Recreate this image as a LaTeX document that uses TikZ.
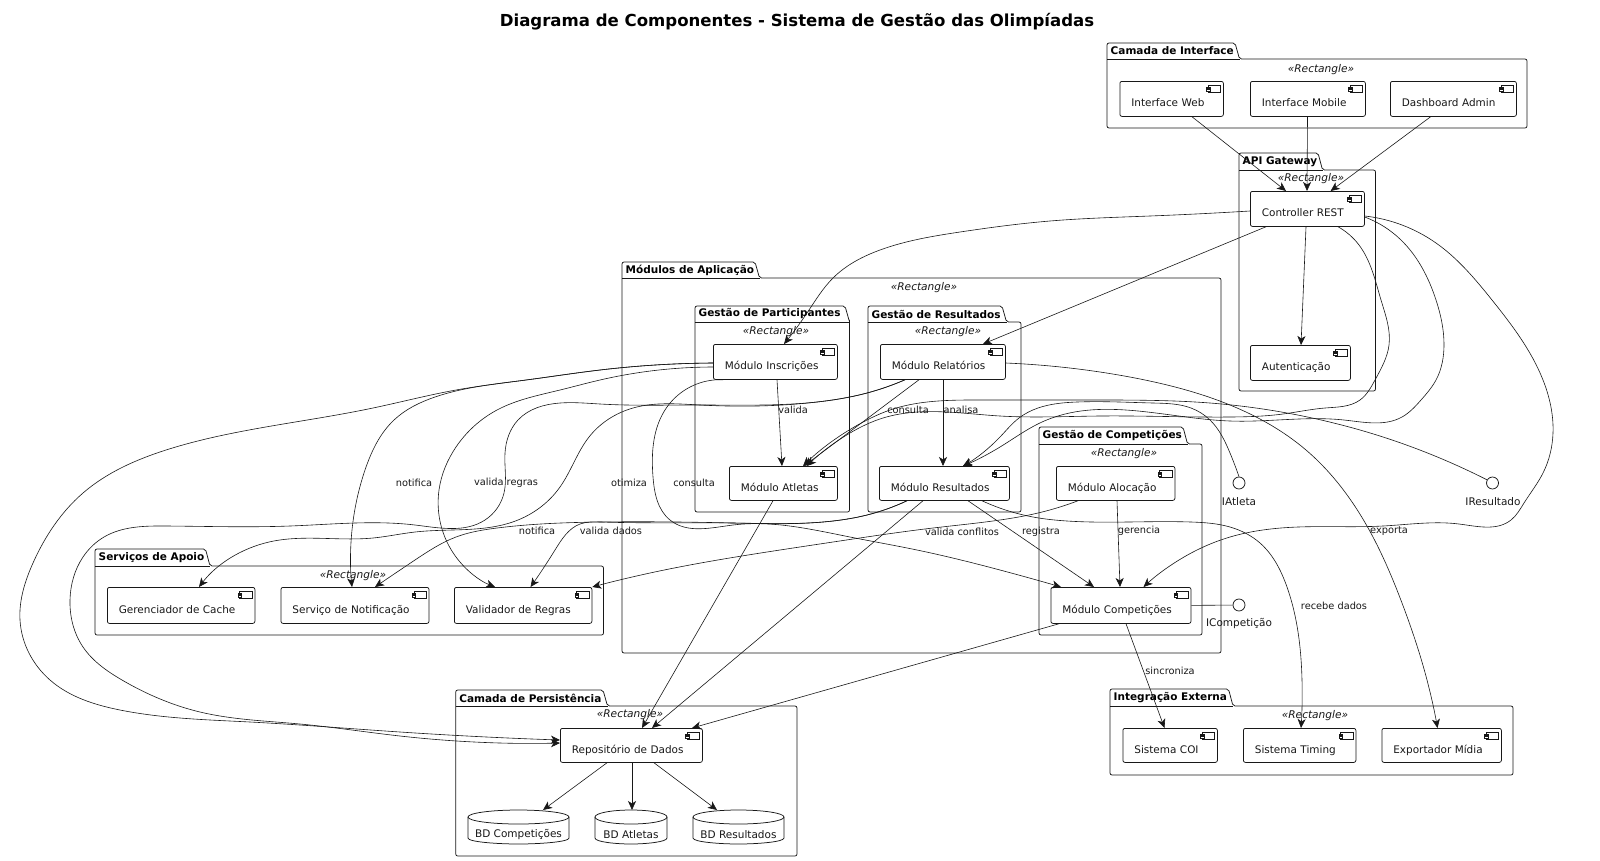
\documentclass[tikz,border=0pt]{standalone}
\usepackage{fontspec}
\setmainfont{DejaVu Sans}
\usetikzlibrary{arrows.meta,calc,hobby}
\definecolor{ink}{HTML}{181818}
\tikzset{
  conn/.style={draw=ink,line width=.6pt,-{Stealth[length=9pt,width=8pt,inset=2.5pt]},use Hobby shortcut},
  plainconn/.style={draw=ink,line width=.6pt},
  frameline/.style={draw=ink,line width=.75pt,rounded corners=2pt},
  comp/.style={draw=ink,line width=.75pt,rounded corners=2pt,fill=white,inner xsep=11.5pt,inner ysep=0pt,font=\fontsize{10.45}{12}\selectfont,text=ink,align=left},
  lbl/.style={inner sep=0pt,font=\fontsize{9.8}{12}\selectfont,text=ink},
  ifacelbl/.style={inner sep=0pt,font=\fontsize{10.5}{12}\selectfont,text=ink},
  pkgtitle/.style={inner sep=0pt,anchor=west,font=\fontsize{10.5}{12}\selectfont\bfseries,text=black},
  stereo/.style={inner sep=0pt,yshift=-1.5pt,font=\fontsize{10.6}{12}\selectfont\itshape,text=ink},
  iface/.style={circle,draw=ink,line width=.75pt,minimum size=12pt,inner sep=0pt,fill=white},
  dbtext/.style={inner sep=0pt,font=\fontsize{10.5}{12}\selectfont,text=ink},
}
% id, left, top, tab right, body top, right, bottom, title, stereotype position
\newcommand{\pkgbox}[9]{%
  \pgfmathsetmacro\mytr{#4+4.5}%
  \pgfmathsetmacro\mytm{(#3+#5)/2}%
  \draw[frameline] (#2,#5) -- (#2,#3) -- (#4,#3) -- (\mytr,#5) -- (#6,#5) -- (#6,#7) -- (#2,#7) -- cycle;
  \draw[draw=ink,line width=.75pt] (#2,#5) -- (\mytr,#5);
  \node[pkgtitle] (#1title) at (#2+3.5,\mytm) {#8};
  \node[stereo] (#1stereo) at (#9) {«Rectangle»};
}
\newcommand{\compbox}[6]{%
  \pgfmathsetmacro\myw{#4-#2}%
  \pgfmathsetmacro\myh{#5-#3}%
  \pgfmathsetmacro\mytw{#4-#2-23}%
  \node[comp,anchor=north west,minimum width=\myw pt,minimum height=\myh pt,text width=\mytw pt] (#1) at (#2,#3) {\raisebox{-8pt}[0pt][0pt]{#6}};
  \draw[draw=ink,line width=.6pt,fill=white] ([xshift=-15.5pt,yshift=-4pt]#1.north east) rectangle ([xshift=-3pt,yshift=-11.5pt]#1.north east);
  \draw[draw=ink,line width=.4pt,fill=white] ([xshift=-17.5pt,yshift=-5.7pt]#1.north east) rectangle ([xshift=-14pt,yshift=-7.2pt]#1.north east);
  \draw[draw=ink,line width=.4pt,fill=white] ([xshift=-17.5pt,yshift=-8.3pt]#1.north east) rectangle ([xshift=-14pt,yshift=-9.8pt]#1.north east);
}
% id, x1, x2, top, bottom, text
\newcommand{\dbbox}[6]{%
  \pgfmathsetmacro\myxm{(#2+#3)/2}%
  \pgfmathsetmacro\myrx{(#3-#2)/2}%
  \pgfmathsetmacro\myya{#4+7}%
  \pgfmathsetmacro\myyb{#5-6}%
  \pgfmathsetmacro\myym{(#4+#5)/2+7.5}%
  \draw[draw=ink,line width=.75pt,fill=white] (#2,\myya) -- (#2,\myyb) .. controls (#2,#5-2) and (\myxm-\myrx*.4,#5) .. (\myxm,#5) .. controls (\myxm+\myrx*.4,#5) and (#3,#5-2) .. (#3,\myyb) -- (#3,\myya);
  \draw[draw=ink,line width=.75pt,fill=white] (\myxm,\myya) ellipse [x radius=\myrx pt,y radius=7pt];
  \path (#2,#4) coordinate (#1nw) (#3,#5) coordinate (#1se);
  \node[dbtext] (#1) at (\myxm,\myym) {#6};
}
\begin{document}
\begin{tikzpicture}[x=1pt,y=-1pt]
\useasboundingbox (0,0) rectangle (1600,860);
\node[inner sep=0pt,font=\fontsize{16.55}{20}\selectfont\bfseries,text=black] (titulo) at (797,22) {Diagrama de Componentes - Sistema de Gestão das Olimpíadas};

\pkgbox{ui}{1107}{43}{1235}{59}{1527}{128}{Camada de Interface}{1321,68}
\pkgbox{api}{1239}{153}{1318}{170}{1375.5}{391}{API Gateway}{1311,177.5}
\pkgbox{app}{622}{262}{755}{278}{1221}{653}{Módulos de Aplicação}{924,286}
\pkgbox{part}{695}{306}{845}{322}{849.5}{512}{Gestão de Participantes}{776,330}
\pkgbox{gres}{868}{306}{1002}{322}{1021}{512}{Gestão de Resultados}{948,330}
\pkgbox{gcomp}{1039}{427}{1183}{444}{1202}{635}{Gestão de Competições}{1124,452}
\pkgbox{apoio}{95}{549}{205.5}{566}{603.5}{635}{Serviços de Apoio}{353,574}
\pkgbox{pers}{455.7}{690}{603}{706}{797}{856}{Camada de Persistência}{630,713}
\pkgbox{ext}{1110}{689}{1228.5}{706}{1513}{775}{Integração Externa}{1315,714}

\compbox{web}{1119.5}{81}{1223}{116}{Interface Web}
\compbox{mobile}{1250}{81}{1365}{116}{Interface Mobile}
\compbox{dash}{1390}{81}{1516}{116}{Dashboard Admin}
\compbox{rest}{1250}{191}{1364}{226}{Controller REST}
\compbox{auth}{1250}{345}{1350}{380}{Autenticação}
\compbox{insc}{713}{344}{837}{379}{Módulo Inscrições}
\compbox{atl}{729}{466}{837}{500}{Módulo Atletas}
\compbox{rel}{880}{344}{1005}{379}{Módulo Relatórios}
\compbox{res}{879}{466}{1009}{500}{Módulo Resultados}
\compbox{alo}{1056}{466}{1174.5}{500}{Módulo Alocação}
\compbox{cpt}{1050.5}{587}{1190.6}{623}{Módulo Competições}
\compbox{cache}{107}{587}{254.5}{623}{Gerenciador de Cache}
\compbox{notif}{280.6}{587}{428.6}{623}{Serviço de Notificação}
\compbox{valid}{454}{587}{591.5}{623}{Validador de Regras}
\compbox{repo}{560}{728}{702}{762}{Repositório de Dados}
\compbox{coi}{1122.5}{728}{1217}{762}{Sistema COI}
\compbox{timing}{1243}{728}{1355.5}{762}{Sistema Timing}
\compbox{expo}{1381.5}{728}{1501}{762}{Exportador Mídia}

\dbbox{bdc}{468}{569}{810}{844}{BD Competições}
\dbbox{bda}{595}{667}{810}{844}{BD Atletas}
\dbbox{bdr}{693}{784}{810}{844}{BD Resultados}

\node[iface] (iat) at (1239,483) {};
\node[iface] (ire) at (1492.5,483) {};
\node[iface] (icp) at (1239,605) {};
\node[ifacelbl] (iatl) at (1239,502) {IAtleta};
\node[ifacelbl] (irel) at (1493,502) {IResultado};
\node[ifacelbl] (icpl) at (1239,624) {ICompetição};

% straight connectors
\draw[conn] (web.south -| 1192,0) -- (rest.north -| 1286,0);
\draw[conn] (mobile.south -| 1307.5,0) -- (rest.north -| 1307,0);
\draw[conn] (dash.south -| 1430.6,0) -- (rest.north -| 1330.6,0);
\draw[conn] (rest.south -| 1266,0) -- (rel.north -| 983,0);
\draw[conn] (rest.south -| 1306,0) -- (auth.north -| 1301,0);
\draw[conn] (insc.south -| 777,0) -- (atl.north -| 782,0);
\draw[conn] (rel.south -| 943,0) -- (res.north -| 943,0);
\draw[conn] (rel.south -| 919,0) -- (atl.north -| 804,0);
\draw[conn] (alo.south -| 1117,0) -- (cpt.north -| 1120,0);
\draw[conn] (res.south -| 968,0) -- (cpt.north -| 1094,0);
\draw[conn] (res.south -| 923,0) -- (repo.north -| 652,0);
\draw[conn] (atl.south -| 773,0) -- (repo.north -| 642,0);
\draw[conn] (cpt.south -| 1059,0) -- (repo.north -| 692,0);
\draw[conn] (cpt.south -| 1126,0) -- (coi.north -| 1164.5,0);
\draw[conn] (repo.south -| 607,0) -- (bdcnw -| 543,0);
\draw[conn] (repo.south -| 632,0) -- (bdanw -| 632,0);
\draw[conn] (repo.south -| 654,0) -- (bdrnw -| 717,0);
\draw[plainconn] (cpt.east) -- (icp);

% curved connectors
\draw[conn] (rest.west |- 0,211) .. (1150,216) .. (1050,221) .. (960,232) .. (880,250) .. (833,278) .. (807,313) .. (insc.north -| 784,0);
\draw[conn] (rest.south -| 1338,0) .. (1359,245) .. (1381,300) .. (1389,345) .. (1375,380) .. (1360,400) .. (1325,408) .. (1283,414) .. (1230,417) .. (1100,416) .. (1000,416) .. (883,418) .. (850,433) .. (atl.north -| 807,0);
\draw[conn] (rest.east |- 0,217) .. (1401,240) .. (1436,300) .. (1444,345) .. (1436,380) .. (1421,400) .. (1402,417) .. (1344,420) .. (1230,421) .. (1042,422) .. (1000,447) .. (res.north -| 963,0);
\draw[conn] (rest.east |- 0,216) .. (1436,243) .. (1492,300) .. (1543,380) .. (1553,433) .. (1543,473) .. (1524,503) .. (1511,520) .. (1459,524) .. (1383,526) .. (1298,527) .. (1230,537) .. (1184,557) .. (cpt.north -| 1143.5,0);
\draw[conn] (iat.north) .. (1230,453) .. (1210,420) .. (1191,408) .. (1153,403) .. (1077,402) .. (1038,408) .. (1019,418) .. (1000,437) .. (res.north -| 963,0);
\draw[conn] (ire.150) .. (1383,437) .. (1287,413) .. (1210,403) .. (1115,400) .. (1000,400) .. (967,400) .. (890,410) .. (867,420) .. (atl.north -| 803,0);
\draw[conn] (insc.south -| 723,0) .. (667,407) .. (653,477) .. (670,520) .. (733,525) .. (850,537) .. (917,550) .. (1000,570) .. (cpt.north -| 1061,0);
\draw[conn] (rel.south -| 905,0) .. (867,393) .. (817,402) .. (700,405) .. (633,408) .. (589,437) .. (560,487) .. (518,520) .. (415,532) .. (373,538) .. (269,542) .. (cache.north -| 199,0);
\draw[conn] (rel.south -| 905,0) .. (867,393) .. (817,402) .. (700,405) .. (600,404) .. (560,403) .. (518,420) .. (505,453) .. (504,493) .. (485,520) .. (415,525) .. (290,526) .. (166,526) .. (104,537) .. (83,557) .. (70,600) .. (83,647) .. (122,680) .. (200,712) .. (300,724) .. (400,736) .. (repo.west |- 0,743);
\draw[conn] (insc.west |- 0,363) .. (600,370) .. (526,380) .. (435,397) .. (394,420) .. (365,470) .. (352,530) .. (notif.north -| 352,0);
\draw[conn] (insc.west |- 0,363) .. (600,370) .. (526,380) .. (456,390) .. (373,408) .. (249,430) .. (166,450) .. (83,493) .. (33,563) .. (20,620) .. (50,680) .. (120,710) .. (250,722) .. (400,732) .. (repo.west |- 0,740);
\draw[conn] (insc.west |- 0,367) .. (600,380) .. (560,390) .. (497,410) .. (456,447) .. (439,490) .. (456,557) .. (valid.north -| 495,0);
\draw[conn] (res.south -| 907,0) .. (867,515) .. (833,521) .. (733,523) .. (600,522) .. (497,528) .. (456,537) .. (415,560) .. (notif.north -| 375,0);
\draw[conn] (res.south -| 907,0) .. (867,515) .. (833,521) .. (733,523) .. (601,522) .. (580,524) .. (555,550) .. (valid.north -| 530.5,0);
\draw[conn] (alo.south -| 1078,0) .. (1038,513) .. (1000,520) .. (933,528) .. (833,542) .. (767,552) .. (650,573) .. (valid.east |- 0,587);
\draw[conn] (res.south -| 982,0) .. (1033,517) .. (1067,521) .. (1191,522) .. (1230,527) .. (1260,543) .. (1287,587) .. (1302,680) .. (timing.north -| 1301,0);
\draw[conn] (rel.east |- 0,363) .. (1100,372) .. (1145,380) .. (1230,405) .. (1306,450) .. (1363.5,520) .. (1402,603) .. (1427,680) .. (expo.north -| 1437.5,0);

% labels
\node[lbl] (l1) at (793,410) {valida};
\node[lbl] (l2) at (908,410) {consulta};
\node[lbl] (l3) at (961,410) {analisa};
\node[lbl] (l4) at (629,483) {otimiza};
\node[lbl] (l5) at (694,483) {consulta};
\node[lbl] (l6) at (611,531) {valida dados};
\node[lbl] (l7) at (537,531) {notifica};
\node[lbl] (l8) at (414,483) {notifica};
\node[lbl] (l9) at (506,483) {valida regras};
\node[lbl] (l10) at (962,532) {valida conflitos};
\node[lbl] (l11) at (1041,532) {registra};
\node[lbl] (l12) at (1139,531) {gerencia};
\node[lbl] (l13) at (1389,531) {exporta};
\node[lbl] (l14) at (1334,606) {recebe dados};
\node[lbl] (l15) at (1170,671) {sincroniza};
\end{tikzpicture}
\end{document}
